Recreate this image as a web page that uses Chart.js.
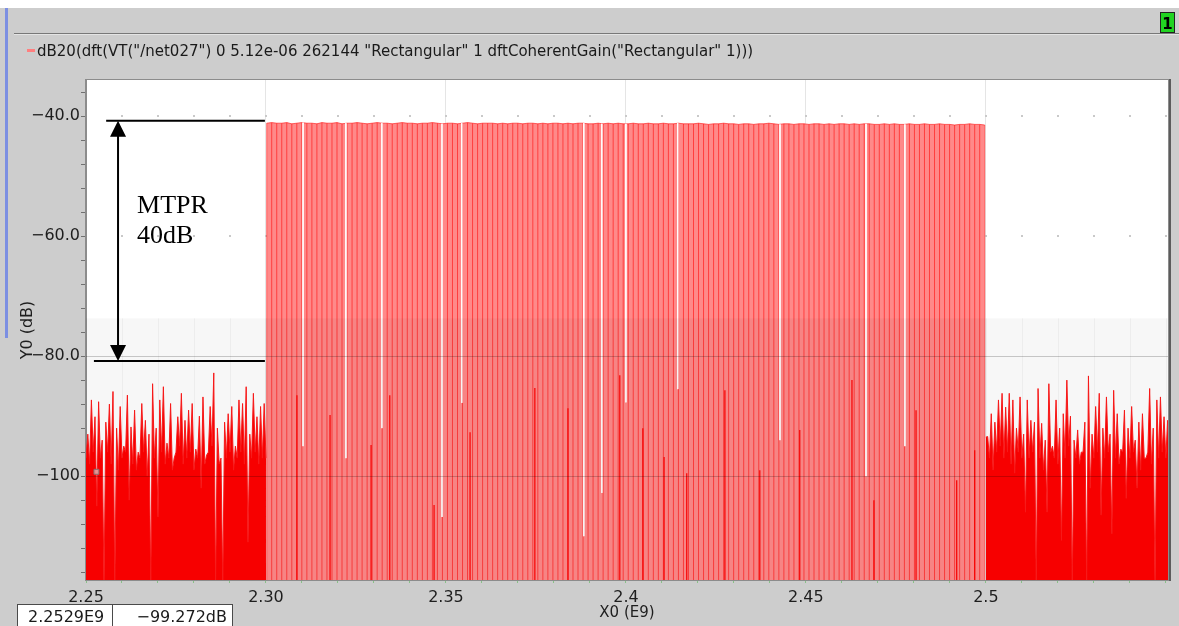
<!DOCTYPE html>
<html>
<head>
<meta charset="utf-8">
<title>dB20 dft spectrum</title>
<script src="https://cdn.jsdelivr.net/npm/chart.js@4.4.1/dist/chart.umd.min.js"></script>
<style>
  html, body { margin: 0; padding: 0; background: #cdcdcd; }
  canvas { display: block; }
</style>
</head>
<body>
<canvas id="spectrum" width="1179" height="626"></canvas>
<script>
// frequency axis in GHz (E9), level axis in dB
const xMin = 2.25;
const xMax = 2.5506;
const yMin = -117.3;
const yMax = -34;

const xTickValues = [2.25, 2.30, 2.35, 2.40, 2.45, 2.50];
const xTickLabels = ['2.25', '2.30', '2.35', '2.4', '2.45', '2.5'];
const yTickValues = [-40, -60, -80, -100];
const yTickLabels = ['\u221240.0', '\u221260.0', '\u221280.0', '\u2212100'];

const traceName = 'dB20(dft(VT("/net027") 0 5.12e-06 262144 "Rectangular" 1 dftCoherentGain("Rectangular" 1)))';

// out-of-band noise: alternating local minimum / local maximum every 0.5 MHz
const noiseStep = 0.0005;
const leftStart = 2.25;
const leftTroughsDb = [
  -97, -98, -96, -105, -97, -118, -96, -98, -118, -99,
  -97, -96, -104, -98, -99, -97, -96, -100, -118, -97,
  -106.8, -96, -98, -97, -99, -96, -95, -98, -97, -96,
  -99, -97, -102, -98, -96, -95, -118, -98, -118, -97,
  -96, -99, -97, -96, -98, -111, -97, -96, -98, -97,
  -97
];
const leftPeaksDb = [
  -93, -87.3, -90.1, -87.6, -94, -91, -88, -85.9, -92, -88.4,
  -95, -86.5, -91.8, -89, -96, -87.9, -90.7, -93, -84.6, -92,
  -87.3, -85.1, -94.5, -87.9, -97, -90.1, -86.2, -90.7, -89, -87.9,
  -95.5, -90, -86.8, -96.5, -88.4, -82.8, -92, -97, -91, -89.6,
  -88.4, -95, -87.3, -87.9, -85.1, -93, -86.2, -90.1, -88.4, -87.9
];
const rightStart = 2.50;
const rightTroughsDb = [
  -93.5, -97, -99, -96, -95, -97, -96, -98, -99.5, -96,
  -97, -106, -97, -96, -118, -97, -99, -106, -96, -97,
  -98, -110.7, -97, -95, -118, -97, -98, -96, -118, -102,
  -97, -96, -106.5, -97, -96, -109.6, -97, -98, -96, -103.7,
  -97, -96, -102, -99, -97, -96, -98, -118, -97, -96,
  -97, -97
];
const rightPeaksDb = [
  -93.4, -89.6, -91, -87.3, -86.2, -88.5, -86.2, -87.3, -92, -86.8,
  -93, -87.3, -90.7, -91, -85.4, -91.2, -94, -84.6, -95, -87.3,
  -92, -89.6, -84, -90, -94, -92.3, -96, -91, -83.3, -93,
  -88.4, -86.2, -92, -86.8, -93, -85.7, -89.6, -95.5, -89, -92,
  -88.4, -94, -91, -89.6, -97, -85.4, -92, -87.3, -86.8, -90.1,
  -90.7
];

// multitone comb between 2.30 and 2.50 GHz; the bins between tones sit under the axis
const toneStart = 2.3002;
const toneStep = 0.001395;
const toneGapDb = -118;
const toneLevelsDb = [
  -41.2, -41.1, -41.2, -41.2, -41.1, -41.3, -41.2, -41.1, -41.2, -41.2, -41.3, -41.1,
  -41.2, -41.2, -41.1, -41.3, -41.2, -41.2, -41.1, -41.2, -41.3, -41.2, -41.1, -41.2,
  -41.2, -41.3, -41.2, -41.1, -41.2, -41.2, -41.3, -41.2, -41.2, -41.1, -41.2, -41.3,
  -41.2, -41.2, -41.3, -41.2, -41.1, -41.2, -41.3, -41.2, -41.2, -41.2, -41.3, -41.2,
  -41.3, -41.2, -41.2, -41.3, -41.2, -41.2, -41.3, -41.2, -41.3, -41.2, -41.2, -41.3,
  -41.2, -41.3, -41.2, -41.2, -41.3, -41.3, -41.2, -41.3, -41.2, -41.3, -41.2, -41.3,
  -41.3, -41.2, -41.3, -41.3, -41.2, -41.3, -41.3, -41.2, -41.3, -41.3, -41.2, -41.3,
  -41.3, -41.3, -41.2, -41.3, -41.4, -41.3, -41.3, -41.2, -41.3, -41.3, -41.4, -41.3,
  -41.3, -41.4, -41.3, -41.3, -41.2, -41.3, -41.4, -41.3, -41.3, -41.4, -41.3, -41.3,
  -41.4, -41.3, -41.3, -41.4, -41.3, -41.4, -41.3, -41.3, -41.4, -41.3, -41.4, -41.3,
  -41.3, -41.4, -41.4, -41.3, -41.4, -41.3, -41.4, -41.4, -41.3, -41.4, -41.4, -41.3,
  -41.4, -41.4, -41.3, -41.4, -41.4, -41.5, -41.4, -41.4, -41.3, -41.4, -41.4, -41.5
];

// noise bins inside the band that rise above the floor
const inbandFreqs = [2.3086, 2.3178, 2.3292, 2.3344, 2.3467, 2.3567, 2.3747, 2.3839, 2.3983, 2.4047,
  2.4106, 2.4169, 2.4275, 2.4372, 2.4483, 2.4628, 2.4689, 2.4806, 2.4919, 2.4969];
const inbandDb = [-86.5, -89.8, -94.8, -86.5, -104.8, -92.7, -85.3, -88.7, -83.2, -92.0,
  -96.8, -99.5, -85.7, -99, -92.3, -84, -104, -89, -100.7, -95.7];

// empty bins between tones, open from the tone tops down to these levels
const holeFreqs = [2.3103, 2.3222, 2.3322, 2.3489, 2.3544, 2.3883, 2.3933, 2.4000, 2.4144, 2.4428, 2.4667, 2.4775];
const holeDb = [-95, -97, -92, -106.8, -87.8, -110, -102.8, -87.7, -85.5, -94, -100, -95];

// cursor readout
const cursorX = 2.2529;
const cursorY = -99.272;

// MTPR marker: tone level reference and the ratio it spans
const mtprTopDb = -40.8;
const mtprDb = 40;
const mtprArrowX = 2.2589;
const mtprTopFrom = 2.2556;
const mtprBottomFrom = 2.2522;
const mtprTo = 2.2997;

const lowerPaneTopDb = -73.7;

const toneFreqs = toneLevelsDb.map((_, i) => toneStart + i * toneStep);

function zigzag(start, troughs, peaks) {
  const pts = [];
  peaks.forEach((p, i) => {
    pts.push({ x: start + 2 * i * noiseStep, y: troughs[i] });
    pts.push({ x: start + (2 * i + 1) * noiseStep, y: p });
  });
  pts.push({ x: start + 2 * peaks.length * noiseStep, y: troughs[peaks.length] });
  return pts;
}

function spikes(xs, tops, base) {
  const pts = [];
  xs.forEach((x, i) => {
    pts.push({ x, y: base }, { x, y: tops[i] }, { x, y: null });
  });
  return pts;
}

function holes() {
  const pts = [];
  holeFreqs.forEach((x, i) => {
    const k = Math.min(toneLevelsDb.length - 1, Math.max(0, Math.round((x - toneStart) / toneStep)));
    pts.push({ x, y: toneLevelsDb[k] }, { x, y: holeDb[i] }, { x, y: null });
  });
  return pts;
}

const FONT = '"DejaVu Sans", sans-serif';

const panel = {
  id: 'panel',
  beforeDraw(chart) {
    const { ctx, chartArea: a } = chart;
    ctx.save();
    ctx.fillStyle = '#cdcdcd';
    ctx.fillRect(0, 0, chart.width, chart.height);
    ctx.fillStyle = '#ffffff';
    ctx.fillRect(0, 0, chart.width, 8);
    ctx.fillStyle = '#7c8fe2';
    ctx.fillRect(5, 8, 3, 330);
    ctx.fillStyle = '#787878';
    ctx.fillRect(14, 33, chart.width - 14, 1);
    ctx.fillStyle = '#e4e4e4';
    ctx.fillRect(14, 34, chart.width - 14, 1);

    // subwindow number
    ctx.fillStyle = '#22d322';
    ctx.fillRect(1160, 12, 15, 21);
    ctx.strokeStyle = '#222';
    ctx.lineWidth = 1;
    ctx.strokeRect(1160.5, 12.5, 14, 20);
    ctx.fillStyle = '#000';
    ctx.font = 'bold 15px ' + FONT;
    ctx.textAlign = 'center';
    ctx.textBaseline = 'alphabetic';
    ctx.fillText('1', 1167.5, 29);

    // trace legend
    ctx.fillStyle = '#ff7f7f';
    ctx.fillRect(27, 49, 8, 3);
    ctx.fillStyle = '#1a1a1a';
    ctx.font = '15px ' + FONT;
    ctx.textAlign = 'left';
    ctx.fillText(traceName, 37, 56);

    ctx.fillStyle = '#ffffff';
    ctx.fillRect(a.left, a.top, a.right - a.left, a.bottom - a.top);
    ctx.restore();
  },
  beforeDatasetsDraw(chart) {
    const { ctx, chartArea: a, scales: { x, y } } = chart;
    ctx.save();
    // dotted major rows, and faint minor columns in the lower pane
    const py0 = y.getPixelForValue(lowerPaneTopDb);
    x.ticks.forEach(t => {
      const px = Math.round(x.getPixelForValue(t.value));
      if (px <= a.left + 1 || px >= a.right - 1) return;
      ctx.fillStyle = '#c9c9c9';
      yTickValues.forEach(v => {
        if (v > lowerPaneTopDb) ctx.fillRect(px - 1, Math.round(y.getPixelForValue(v)) - 1, 2, 2);
      });
      ctx.fillStyle = 'rgba(0,0,0,0.04)';
      ctx.fillRect(px, py0, 1, a.bottom - py0);
    });
    ctx.restore();
  },
  afterDatasetsDraw(chart) {
    const { ctx, chartArea: a, scales: { x, y } } = chart;
    ctx.save();
    ctx.beginPath();
    ctx.rect(a.left, a.top, a.right - a.left, a.bottom - a.top);
    ctx.clip();
    const py0 = y.getPixelForValue(lowerPaneTopDb);
    ctx.fillStyle = 'rgba(0,0,0,0.03)';
    ctx.fillRect(a.left, py0, a.right - a.left, a.bottom - py0);
    ctx.fillStyle = 'rgba(0,0,0,0.2)';
    yTickValues.forEach(v => {
      if (v < lowerPaneTopDb) ctx.fillRect(a.left, Math.round(y.getPixelForValue(v)), a.right - a.left, 1);
    });
    ctx.restore();

    // MTPR arrow between the tone level and the out-of-band level
    ctx.save();
    const yt = y.getPixelForValue(mtprTopDb);
    const yb = y.getPixelForValue(mtprTopDb - mtprDb);
    const ax = x.getPixelForValue(mtprArrowX);
    ctx.strokeStyle = '#000';
    ctx.fillStyle = '#000';
    ctx.lineWidth = 2;
    ctx.beginPath();
    ctx.moveTo(x.getPixelForValue(mtprTopFrom), yt);
    ctx.lineTo(x.getPixelForValue(mtprTo), yt);
    ctx.moveTo(x.getPixelForValue(mtprBottomFrom), yb);
    ctx.lineTo(x.getPixelForValue(mtprTo), yb);
    ctx.moveTo(ax, yt + 12);
    ctx.lineTo(ax, yb - 12);
    ctx.stroke();
    ctx.beginPath();
    ctx.moveTo(ax, yt);
    ctx.lineTo(ax - 8, yt + 16);
    ctx.lineTo(ax + 8, yt + 16);
    ctx.closePath();
    ctx.moveTo(ax, yb);
    ctx.lineTo(ax - 8, yb - 16);
    ctx.lineTo(ax + 8, yb - 16);
    ctx.closePath();
    ctx.fill();
    ctx.font = '26px "Liberation Serif", serif';
    ctx.textAlign = 'left';
    ctx.textBaseline = 'alphabetic';
    ctx.fillText('MTPR', ax + 19, yt + 92);
    ctx.fillText(mtprDb + 'dB', ax + 19, yt + 122);
    ctx.restore();
  },
  afterDraw(chart) {
    const { ctx, chartArea: a } = chart;
    ctx.save();
    // plot frame
    ctx.strokeStyle = '#8c8c8c';
    ctx.lineWidth = 1;
    ctx.strokeRect(a.left - 0.5, a.top - 0.5, a.right - a.left + 1, a.bottom - a.top + 1);
    ctx.fillStyle = '#5c5c5c';
    ctx.fillRect(a.right + 1, a.top - 1, 2, a.bottom - a.top + 2);

    // cursor readout boxes
    const xs = cursorX.toFixed(4) + 'E9';
    const ys = (cursorY < 0 ? '\u2212' : '') + Math.abs(cursorY).toFixed(3) + 'dB';
    ctx.fillStyle = '#ffffff';
    ctx.fillRect(17, 604, 215, 24);
    ctx.strokeStyle = '#4a4a4a';
    ctx.strokeRect(17.5, 604.5, 95, 24);
    ctx.strokeRect(112.5, 604.5, 120, 24);
    ctx.fillStyle = '#1a1a1a';
    ctx.font = '16px ' + FONT;
    ctx.textAlign = 'left';
    ctx.fillText(xs, 28, 622);
    ctx.textAlign = 'right';
    ctx.fillText(ys, 227, 622);
    ctx.restore();
  }
};

const noiseStyle = {
  borderColor: '#ff1a1a',
  borderWidth: 1,
  backgroundColor: '#ff0000',
  fill: 'start',
  pointRadius: 0,
  clip: 0,
  order: 1
};

new Chart(document.getElementById('spectrum'), {
  type: 'line',
  data: {
    datasets: [
      {
        label: 'cursor',
        data: [{ x: cursorX, y: cursorY }],
        showLine: false,
        pointStyle: 'rect',
        pointRadius: 3.5,
        pointBackgroundColor: 'rgba(236,160,160,0.9)',
        pointBorderColor: '#8a7474',
        pointBorderWidth: 1,
        order: 0
      },
      Object.assign({ label: 'noise 2.25-2.30', data: zigzag(leftStart, leftTroughsDb, leftPeaksDb) }, noiseStyle),
      Object.assign({ label: 'noise 2.50-2.55', data: zigzag(rightStart, rightTroughsDb, rightPeaksDb) }, noiseStyle),
      {
        label: 'empty bins',
        data: holes(),
        borderColor: '#ffffff',
        borderWidth: 1,
        pointRadius: 0,
        clip: 0,
        order: 2
      },
      {
        label: 'in-band noise',
        data: spikes(inbandFreqs, inbandDb, toneGapDb),
        borderColor: '#ff0000',
        borderWidth: 1.2,
        pointRadius: 0,
        clip: 0,
        order: 3
      },
      {
        label: 'tones',
        data: spikes(toneFreqs, toneLevelsDb, toneGapDb),
        borderColor: 'rgba(255,0,0,0.55)',
        borderWidth: 1,
        pointRadius: 0,
        clip: 0,
        order: 4
      },
      {
        label: 'tone band',
        data: toneFreqs.map((f, i) => ({ x: f, y: toneLevelsDb[i] })),
        borderColor: 'rgba(255,60,60,0.8)',
        borderWidth: 1,
        backgroundColor: '#ff8989',
        fill: 'start',
        pointRadius: 0,
        clip: 0,
        order: 5
      }
    ]
  },
  options: {
    responsive: false,
    devicePixelRatio: 1,
    animation: false,
    events: [],
    layout: { padding: { left: 14, right: 11, top: 80, bottom: 0 } },
    plugins: {
      legend: { display: false },
      tooltip: { enabled: false }
    },
    scales: {
      x: {
        type: 'linear',
        min: xMin,
        max: xMax,
        afterBuildTicks(scale) {
          const t = [];
          for (let i = 0; i <= 30; i++) t.push({ value: Math.round((2.25 + i * 0.01) * 100) / 100 });
          scale.ticks = t;
        },
        afterFit(scale) { scale.height = 46; },
        ticks: {
          autoSkip: false,
          maxRotation: 0,
          padding: 5,
          color: '#1e1e1e',
          font: { family: FONT, size: 16 },
          callback: v => {
            const i = xTickValues.findIndex(t => Math.abs(t - v) < 1e-6);
            return i < 0 ? '' : xTickLabels[i];
          }
        },
        grid: {
          color: c => {
            const v = c.tick ? c.tick.value : NaN;
            const major = xTickValues.some(t => Math.abs(t - v) < 1e-6);
            return major && v > xMin + 1e-6 ? 'rgba(0,0,0,0.1)' : 'transparent';
          },
          tickColor: '#88c088',
          tickLength: 3
        },
        border: { color: '#8c8c8c' },
        title: {
          display: true,
          text: 'X0 (E9)',
          color: '#1e1e1e',
          font: { family: FONT, size: 15 },
          padding: { top: 0, bottom: 4 }
        }
      },
      y: {
        type: 'linear',
        min: yMin,
        max: yMax,
        afterBuildTicks(scale) {
          const t = [];
          for (let v = -116; v <= -36; v += 4) t.push({ value: v });
          scale.ticks = t;
        },
        afterFit(scale) { scale.width = 72; },
        ticks: {
          autoSkip: false,
          padding: 1,
          color: '#1e1e1e',
          font: { family: FONT, size: 16 },
          callback: v => {
            const i = yTickValues.indexOf(v);
            return i < 0 ? '' : yTickLabels[i];
          }
        },
        grid: {
          drawOnChartArea: false,
          tickColor: '#707070',
          tickLength: 5
        },
        border: { color: '#8c8c8c' },
        title: {
          display: true,
          text: 'Y0 (dB)',
          color: '#1e1e1e',
          font: { family: FONT, size: 16 },
          padding: { top: 4, bottom: 0 }
        }
      }
    }
  },
  plugins: [panel]
});
</script>
</body>
</html>
